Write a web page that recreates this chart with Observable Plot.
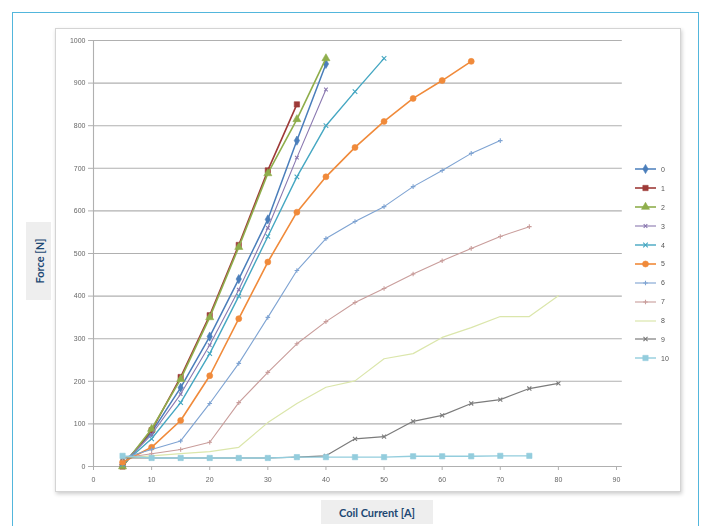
<!DOCTYPE html>
<html>
<head>
<meta charset="utf-8">
<script src="https://cdn.jsdelivr.net/npm/d3@7"></script>
<script src="https://cdn.jsdelivr.net/npm/@observablehq/plot@0.6"></script>
<style>
  html, body { margin: 0; padding: 0; background: #fff; }
  body { width: 706px; height: 526px; position: relative; overflow: hidden; font-family: Lato, "Open Sans", sans-serif; }
  .card { position: absolute; left: 12px; top: 12px; width: 687px; height: 530px; border: 1.5px solid #52b6dc; box-sizing: border-box; }
  .frame { position: absolute; left: 55px; top: 28px; width: 626px; height: 464px; border: 1px solid #d4d4d4; box-shadow: 1px 2px 4px rgba(0,0,0,0.2); background: #fff; box-sizing: border-box; }
  #chart { position: absolute; left: 0; top: 0; filter: blur(0.6px); }
  #legend { position: absolute; left: 634px; top: 160px; filter: blur(0.6px); }
  .item { height: 18.9px; display: flex; align-items: center; font: 7px "Liberation Sans", Arial, sans-serif; color: #555; }
  .item svg { margin-right: 3px; }
  .ytitle { position: absolute; left: 26px; top: 222px; width: 25px; height: 78px; background: #eeeeee; }
  .ytitle span { position: absolute; left: 50%; top: 50%; transform: translate(-50%, -50%) rotate(-90deg); white-space: nowrap; font-weight: 700; font-size: 11px; color: #1d4873; }
  .xtitle { position: absolute; left: 321px; top: 500px; width: 112px; height: 24px; background: #eeeeee; display: flex; align-items: center; justify-content: center; font-weight: 700; font-size: 11px; color: #1d4873; white-space: nowrap; }
</style>
</head>
<body>
<div class="card"></div>
<div class="frame"></div>
<div id="chart"></div>
<div id="legend"></div>
<div class="ytitle"><span>Force [N]</span></div>
<div class="xtitle">Coil Current [A]</div>
<script>
// Coil current steps shared by all series [A]
const coilCurrent = [5, 10, 15, 20, 25, 30, 35, 40, 45, 50, 55, 60, 65, 70, 75, 80];

// Measured force [N] per series, starting at 5 A
const force0  = [5, 80, 185, 305, 440, 580, 765, 945];
const force1  = [0, 85, 210, 355, 520, 695, 850];
const force2  = [0, 88, 205, 350, 515, 688, 815, 958];
const force3  = [5, 75, 170, 285, 415, 560, 725, 885];
const force4  = [5, 65, 150, 265, 400, 540, 680, 800, 880, 958];
const force5  = [10, 45, 108, 213, 347, 480, 597, 680, 749, 810, 864, 906, 951];
const force6  = [20, 40, 60, 148, 242, 350, 460, 535, 575, 610, 657, 695, 735, 765];
const force7  = [20, 30, 40, 57, 150, 221, 288, 340, 385, 418, 452, 483, 512, 540, 563];
const force8  = [20, 25, 30, 35, 45, 103, 148, 186, 201, 253, 265, 303, 326, 352, 352, 401];
const force9  = [20, 20, 20, 20, 20, 20, 22, 25, 65, 70, 106, 120, 148, 157, 183, 195];
const force10 = [25, 20, 20, 20, 20, 20, 22, 22, 22, 22, 24, 24, 24, 25, 25];

const seriesNames  = ["0", "1", "2", "3", "4", "5", "6", "7", "8", "9", "10"];
const seriesForces = [force0, force1, force2, force3, force4, force5, force6, force7, force8, force9, force10];

const xTicks = [0, 10, 20, 30, 40, 50, 60, 70, 80, 90];
const yTicks = [0, 100, 200, 300, 400, 500, 600, 700, 800, 900, 1000];

// Styling per series: colour, marker, marker size, line width
const seriesColors  = ["#4a7ebb", "#9e3a38", "#8fae4c", "#8a78b0", "#45a7c2", "#f08a3a", "#7ea3d2", "#c99d9b", "#dbe6ab", "#7b7b7b", "#93cddd"];
const seriesSymbols = ["diamond", "square", "triangle", "times", "times", "circle", "plus", "plus", null, "times", "square"];
const seriesMarkR   = [2.8, 3.0, 3.0, 1.8, 2.2, 3.0, 1.6, 1.6, 0, 2.0, 3.0];
const seriesWidths  = [1.5, 1.6, 1.6, 1.1, 1.4, 1.6, 1.1, 1.1, 1.2, 1.2, 1.4];

const rows = seriesForces.map((forces, i) =>
  forces.map((f, j) => ({series: seriesNames[i], current: coilCurrent[j], force: f}))
);

const filledSymbols = new Set(["diamond", "square", "triangle", "circle"]);

const seriesMarks = rows.flatMap((data, i) => {
  const color = seriesColors[i];
  const marks = [Plot.line(data, {x: "current", y: "force", stroke: color, strokeWidth: seriesWidths[i]})];
  if (seriesSymbols[i]) {
    const filled = filledSymbols.has(seriesSymbols[i]);
    marks.push(Plot.dot(data, {
      x: "current", y: "force", symbol: seriesSymbols[i], r: seriesMarkR[i],
      fill: filled ? color : "none", stroke: color, strokeWidth: filled ? 0.6 : 1.1
    }));
  }
  return marks;
});

const chart = Plot.plot({
  width: 706,
  height: 526,
  marginLeft: 93,
  marginRight: 90,
  marginTop: 40,
  marginBottom: 60,
  style: {background: "transparent", fontFamily: "'Liberation Sans', Arial, sans-serif"},
  x: {domain: [0, 90], label: null},
  y: {domain: [0, 1000], label: null},
  marks: [
    Plot.gridY(yTicks, {stroke: "#b0b0b0", strokeOpacity: 1, strokeWidth: 1.1, x1: 0, x2: 91}),
    Plot.ruleX([0], {stroke: "#b0b0b0", strokeWidth: 1.1}),
    Plot.axisY(yTicks, {tickSize: 5, tickPadding: 3, fontSize: 7, fill: "#666", stroke: "#b0b0b0", tickFormat: d3.format("d"), label: null}),
    Plot.axisX(xTicks, {tickSize: 4, tickPadding: 7, fontSize: 7, fill: "#666", stroke: "#b0b0b0", tickFormat: d3.format("d"), label: null}),
    ...seriesMarks
  ]
});
document.getElementById("chart").appendChild(chart);

// Legend: line with marker and series name
const legend = d3.select("#legend");
const symbolTypes = {
  diamond: d3.symbolDiamond, square: d3.symbolSquare, triangle: d3.symbolTriangle,
  circle: d3.symbolCircle, times: d3.symbolTimes || d3.symbolX, plus: d3.symbolPlus || d3.symbolCross
};
seriesNames.forEach((name, i) => {
  const item = legend.append("div").attr("class", "item");
  const svg = item.append("svg").attr("width", 24).attr("height", 10);
  svg.append("line").attr("x1", 1).attr("x2", 22).attr("y1", 5).attr("y2", 5)
    .attr("stroke", seriesColors[i]).attr("stroke-width", seriesWidths[i]);
  const s = seriesSymbols[i];
  if (s) {
    const filled = filledSymbols.has(s);
    const area = Math.PI * seriesMarkR[i] * seriesMarkR[i];
    svg.append("path").attr("transform", "translate(11.5,5)")
      .attr("d", d3.symbol(symbolTypes[s], area)())
      .attr("fill", filled ? seriesColors[i] : "none")
      .attr("stroke", seriesColors[i]).attr("stroke-width", filled ? 0.6 : 1.1);
  }
  item.append("span").text(name);
});
</script>
</body>
</html>
